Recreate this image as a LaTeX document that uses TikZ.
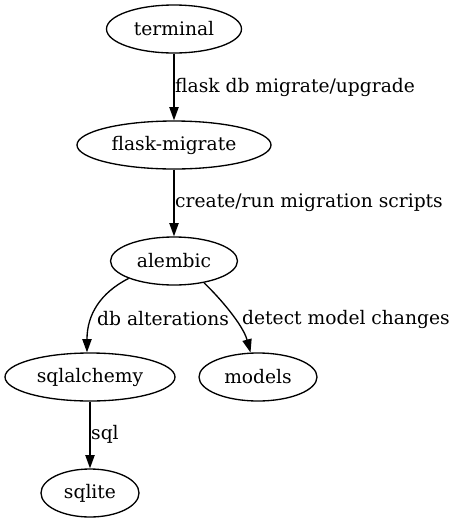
\documentclass[tikz,border=0pt]{standalone}
\usepackage{fontspec}
\setmainfont{DejaVu Serif}
\usetikzlibrary{shapes.geometric,arrows.meta}
\begin{document}
\begin{tikzpicture}[x=1pt,y=-1pt,
  every node/.style={font=\fontsize{18.67}{22}\selectfont},
  gnode/.style={draw,ellipse,line width=1.33pt,minimum height=48pt,inner sep=0pt},
  elabel/.style={anchor=west,inner sep=0pt},
  edge/.style={line width=1.33pt,-{Triangle[length=13.3pt,width=9.3pt]}}]
\useasboundingbox (0,0) rectangle (457,523);
\node[gnode,minimum width=135pt] (terminal) at (174,29) {terminal};
\node[gnode,minimum width=194pt] (flask) at (174,145) {flask-migrate};
\node[gnode,minimum width=127pt] (alembic) at (174,261) {alembic};
\node[gnode,minimum width=170pt] (sqlalchemy) at (90,377) {sqlalchemy};
\node[gnode,minimum width=118pt] (models) at (258,377) {models};
\node[gnode,minimum width=98pt] (sqlite) at (90,493) {sqlite};
\draw[edge] (terminal) -- (flask);
\draw[edge] (flask) -- (alembic);
\draw[edge] (alembic.-159) .. controls (100,293) and (87,315) .. (sqlalchemy.97);
\draw[edge] (alembic.-36) .. controls (220,298) and (243,325) .. (models.107);
\draw[edge] (sqlalchemy) -- (sqlite);
\node[elabel] (l1) at (175,87) {flask db migrate/upgrade};
\node[elabel] (l2) at (175,203) {create/run migration scripts};
\node[elabel] (l3) at (97,319) {db alterations};
\node[elabel] (l4) at (242,319) {detect model changes};
\node[elabel] (l5) at (91,434) {sql};
\end{tikzpicture}
\end{document}
